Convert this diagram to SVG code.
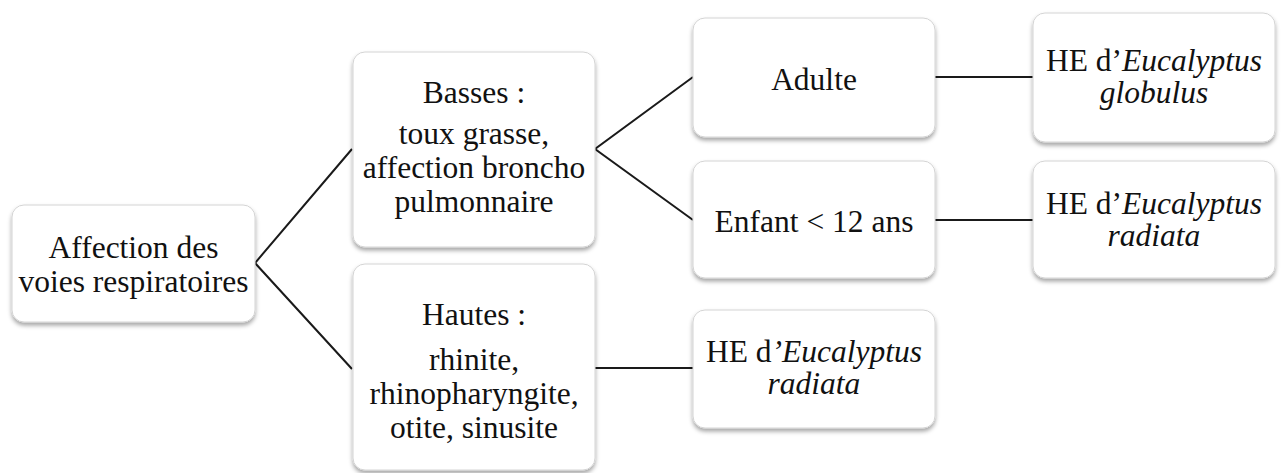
<svg xmlns="http://www.w3.org/2000/svg" width="1282" height="473" viewBox="0 0 1282 473">
<defs>
<filter id="sh" x="-10%" y="-10%" width="120%" height="125%">
<feDropShadow dx="0" dy="3" stdDeviation="2" flood-color="#000" flood-opacity="0.35"/>
</filter>
</defs>
<style>
.box{fill:#fff;stroke:#d4d4d4;stroke-width:1;filter:url(#sh)}
.t{font-family:"Liberation Serif","Times New Roman",serif;font-size:31.5px;fill:#111;text-anchor:middle}
.i{font-style:italic}
.c{stroke:#1a1a1a;stroke-width:2;fill:none}
</style>
<rect width="1282" height="473" fill="#fff"/>
<g id="connectors">
<polyline class="c" points="352,149 255,263 352,369"/>
<polyline class="c" points="693,77 595,149 693,220"/>
<line class="c" x1="935" y1="77" x2="1033" y2="77"/>
<line class="c" x1="935" y1="220" x2="1033" y2="220"/>
<line class="c" x1="595" y1="368" x2="693" y2="368"/>
</g>
<g id="root">
<rect class="box" x="12" y="205" width="243" height="117" rx="12"/>
<text class="t" x="133.5" y="258">Affection des</text>
<text class="t" x="133.5" y="292">voies respiratoires</text>
</g>
<g id="basses">
<rect class="box" x="353" y="52" width="242" height="195" rx="12"/>
<text class="t" x="474" y="103">Basses :</text>
<text class="t" x="474" y="144">toux grasse,</text>
<text class="t" x="474" y="178">affection broncho</text>
<text class="t" x="474" y="212">pulmonnaire</text>
</g>
<g id="hautes">
<rect class="box" x="353" y="264" width="242" height="206" rx="12"/>
<text class="t" x="474" y="325">Hautes :</text>
<text class="t" x="474" y="370">rhinite,</text>
<text class="t" x="474" y="404">rhinopharyngite,</text>
<text class="t" x="474" y="438">otite, sinusite</text>
</g>
<g id="adulte">
<rect class="box" x="693" y="18" width="242" height="119" rx="12"/>
<text class="t" x="814" y="90">Adulte</text>
</g>
<g id="enfant">
<rect class="box" x="693" y="161" width="242" height="117" rx="12"/>
<text class="t" x="814" y="232">Enfant &lt; 12 ans</text>
</g>
<g id="globulus">
<rect class="box" x="1033" y="13" width="242" height="129" rx="12"/>
<text class="t" x="1154" y="71">HE d’<tspan class="i">Eucalyptus</tspan></text>
<text class="t i" x="1154" y="103">globulus</text>
</g>
<g id="radiata-enfant">
<rect class="box" x="1033" y="161" width="242" height="117" rx="12"/>
<text class="t" x="1154" y="214">HE d’<tspan class="i">Eucalyptus</tspan></text>
<text class="t i" x="1154" y="246">radiata</text>
</g>
<g id="radiata-hautes">
<rect class="box" x="693" y="310" width="242" height="118" rx="12"/>
<text class="t" x="814" y="362">HE d<tspan class="i">’Eucalyptus</tspan></text>
<text class="t i" x="814" y="394">radiata</text>
</g>
</svg>
